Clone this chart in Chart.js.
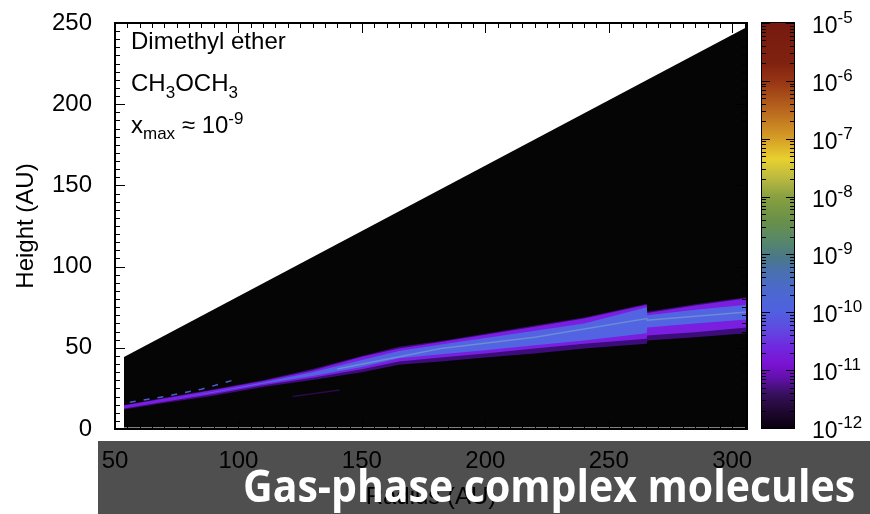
<!DOCTYPE html>
<html>
<head>
<meta charset="utf-8">
<script src="https://cdn.jsdelivr.net/npm/chart.js@4/dist/chart.umd.min.js"></script>
<style>
body { margin: 0; background: #fff; }
#wrap { position: relative; width: 870px; height: 514px; overflow: hidden; font-family: 'Liberation Sans', Arial, sans-serif; }
#main { position: absolute; left: 0; top: 0; }
#bar { position: absolute; left: 740px; top: 0; }
.lbl { position: absolute; left: 131px; font-size: 24px; line-height: 24px; color: #000; white-space: nowrap; }
.sub { position: relative; font-size: 17px; top: 7px; }
.sup { position: relative; font-size: 17px; top: -9px; }
#shade { position: absolute; left: 98px; top: 441px; width: 772px; height: 73px; background: rgba(0, 0, 0, 0.69); }
#banner { position: absolute; left: 243px; top: 463px; font-family: 'Open Sans', sans-serif; font-weight: 700; font-size: 44px; line-height: 44px; color: #fff; white-space: nowrap; transform-origin: 0 0; }
</style>
</head>
<body>
<div id="wrap">
  <canvas id="main" width="760" height="514"></canvas>
  <canvas id="bar" width="130" height="514"></canvas>
  <div class="lbl" style="top:29px">Dimethyl ether</div>
  <div class="lbl" style="top:71px">CH<span class="sub">3</span>OCH<span class="sub">3</span></div>
  <div class="lbl" style="top:113px">x<span class="sub" style="top:6px">max</span> &asymp; 10<span class="sup">-9</span></div>
  <div id="shade"></div>
  <div id="banner">Gas-phase complex molecules</div>
</div>
<script>
// model grid: radius (AU) and heights (AU)
var radius    = [53.6, 70, 90, 110, 130, 150, 165, 182, 200, 220, 240, 265.4, 265.6, 285, 306];
var edgeLow   = [12.0, 16.0, 20.5, 25.8, 30.2, 35.0, 39.5, 41.5, 44.0, 46.5, 49.5, 52.5, 54.5, 56.5, 59.0];
var edgeHigh  = [14.8, 19.2, 24.5, 30.0, 37.0, 45.0, 50.6, 54.2, 58.7, 63.7, 68.7, 77.2, 72.2, 76.8, 81.2];
var outerLow  = [12.6, 16.8, 21.5, 27.0, 31.5, 36.8, 41.5, 44.0, 46.5, 49.5, 52.5, 55.5, 57.5, 59.5, 62.5];
var outerHigh = [14.4, 18.8, 24.0, 29.5, 36.0, 44.5, 49.5, 53.5, 58.0, 63.0, 68.0, 76.5, 71.5, 76.0, 80.5];
var blueLow   = [13.5, 17.8, 22.4, 27.8, 32.6, 38.2, 43.5, 46.0, 48.5, 51.5, 54.5, 59.0, 62.5, 65.0, 67.5];
var blueHigh  = [13.5, 17.8, 23.0, 28.6, 35.0, 42.5, 48.0, 52.0, 56.0, 60.5, 65.0, 75.0, 70.0, 73.5, 76.5];

var coreRadius = [140, 182, 220, 265.4, 265.6, 306];
var coreHeight = [37.0, 49.5, 56.5, 68.0, 67.0, 72.0];

var dashRadius = [56, 70, 85, 100];
var dashHeight = [16.5, 20.0, 24.5, 31.0];
var faintRadius = [122, 141];
var faintHeight = [20.0, 24.0];

// disk surface (upper edge of the model domain)
var diskRadius = [53.6, 306];
var diskHeight = [44.3, 247.6];

var xTicks = [50, 100, 150, 200, 250, 300];
var yTicks = [0, 50, 100, 150, 200, 250];

// colour bar: abundance decades and colour stops
var cbExp = [-12, -11, -10, -9, -8, -7, -6, -5];
var cbStopExp = [-5, -5.7, -6, -6.5, -7, -7.35, -7.7, -8, -8.4, -8.7, -9.05, -9.3, -9.65, -10, -10.3, -10.6, -10.9, -11.15, -11.4, -11.7, -12];
var cbStopColor = ['#761a10', '#802210', '#963414', '#b8661e', '#d69e26', '#e8d030', '#b8b840', '#88a040', '#6a9048', '#5a8a62', '#4a7888', '#4a70b0', '#4c68d0', '#5060e2', '#6048e0', '#7028e0', '#7a12d2', '#6010a8', '#381060', '#200830', '#0a0010'];

Chart.defaults.font.family = "'Liberation Sans', Arial, sans-serif";
Chart.defaults.color = '#000';

function pts(xs, ys) {
  return xs.map(function (x, i) { return { x: x, y: ys[i] }; });
}

function band(data, fill, color, order) {
  return { data: data, fill: fill, backgroundColor: color, borderWidth: 0, pointRadius: 0, order: order };
}

var framePlugin = {
  id: 'frame',
  afterDraw: function (chart) {
    var ctx = chart.ctx, a = chart.chartArea, x = chart.scales.x, y = chart.scales.y;
    var L = Math.round(a.left), R = Math.round(a.right), T = Math.round(a.top), B = Math.round(a.bottom);
    ctx.save();
    ctx.fillStyle = '#000';
    for (var v = 50; v <= 306; v += 5) {
      var px = Math.round(x.getPixelForValue(v));
      var len = v % 50 === 0 ? 10 : 5;
      ctx.fillRect(px, T, 1, len);
      ctx.fillRect(px, B - len, 1, len);
    }
    for (var w = 0; w <= 250; w += 5) {
      var py = Math.round(y.getPixelForValue(w));
      var l2 = w % 50 === 0 ? 10 : 5;
      ctx.fillRect(L, py, l2, 1);
      ctx.fillRect(R - l2, py, l2, 1);
    }
    ctx.fillRect(L - 1, T - 1, R - L + 2, 2);
    ctx.fillRect(L - 1, B - 1, R - L + 2, 2);
    ctx.fillRect(L - 1, T - 1, 2, B - T + 2);
    ctx.fillRect(R - 1, T - 1, 2, B - T + 2);
    ctx.restore();
  }
};

new Chart(document.getElementById('main'), {
  type: 'line',
  data: {
    datasets: [
      band(pts(diskRadius, diskHeight), { value: 1 }, '#050505', 9),
      band(pts(radius, edgeLow), false, 'transparent', 8),
      band(pts(radius, edgeHigh), '-1', '#3c0c78', 8),
      band(pts(radius, outerLow), false, 'transparent', 7),
      band(pts(radius, outerHigh), '-1', '#7a1ee0', 7),
      band(pts(radius, blueLow), false, 'transparent', 6),
      band(pts(radius, blueHigh), '-1', '#5264e2', 6),
      { data: pts(coreRadius, coreHeight), borderColor: '#6c8cd4', borderWidth: 1.5, pointRadius: 0, fill: false, order: 5 },
      { data: pts(dashRadius, dashHeight), borderColor: '#4a60c8', borderWidth: 1.5, borderDash: [6, 8], pointRadius: 0, fill: false, order: 4 },
      { data: pts(faintRadius, faintHeight), borderColor: '#2a0a48', borderWidth: 1.5, pointRadius: 0, fill: false, order: 4 }
    ]
  },
  options: {
    responsive: false,
    animation: false,
    layout: { padding: { top: 23, right: 13, left: 0, bottom: 0 } },
    plugins: { legend: { display: false }, tooltip: { enabled: false } },
    scales: {
      x: {
        type: 'linear', min: 50, max: 306,
        afterBuildTicks: function (s) { s.ticks = xTicks.map(function (v) { return { value: v }; }); },
        afterFit: function (s) { s.height = 85; s.paddingLeft = 0; s.paddingRight = 0; },
        grid: { display: false, drawTicks: false },
        border: { display: false },
        ticks: { font: { size: 24 }, padding: 18, maxRotation: 0 },
        title: { display: true, text: 'Radius (AU)', font: { size: 24 }, padding: { top: 0, bottom: 2 } }
      },
      y: {
        type: 'linear', min: 0, max: 250,
        afterBuildTicks: function (s) { s.ticks = yTicks.map(function (v) { return { value: v }; }); },
        afterFit: function (s) { s.width = 115; s.paddingTop = 0; s.paddingBottom = 0; },
        grid: { display: false, drawTicks: false },
        border: { display: false },
        ticks: { font: { size: 24 }, padding: 23 },
        title: { display: true, text: 'Height (AU)', font: { size: 24 }, padding: { top: 12, bottom: 0 } }
      }
    }
  },
  plugins: [framePlugin]
});

var colorbarPlugin = {
  id: 'colorbar',
  afterDraw: function (chart) {
    var ctx = chart.ctx, a = chart.chartArea, y = chart.scales.y;
    var L = Math.round(a.left), R = Math.round(a.right), T = Math.round(a.top), B = Math.round(a.bottom);
    ctx.save();
    ctx.fillStyle = '#000';
    for (var i = 0; i < cbExp.length; i++) {
      for (var m = 1; m <= 9; m++) {
        var val = m * Math.pow(10, cbExp[i]);
        if (val > 1.0001e-5) break;
        var py = Math.round(y.getPixelForValue(val));
        var len = m === 1 ? 8 : 4;
        ctx.fillRect(L, py, len, 1);
        ctx.fillRect(R - len, py, len, 1);
      }
    }
    ctx.fillRect(L - 1, T - 1, R - L + 2, 1);
    ctx.fillRect(L - 1, B, R - L + 2, 1);
    ctx.fillRect(L - 1, T - 1, 1, B - T + 2);
    ctx.fillRect(R, T - 1, 1, B - T + 2);
    ctx.textBaseline = 'alphabetic';
    ctx.textAlign = 'left';
    cbExp.forEach(function (e) {
      var p = y.getPixelForValue(Math.pow(10, e));
      ctx.font = "23px 'Liberation Sans', Arial, sans-serif";
      var x0 = R + 18;
      ctx.fillText('10', x0, p + 10);
      var w = ctx.measureText('10').width;
      ctx.font = "17px 'Liberation Sans', Arial, sans-serif";
      ctx.fillText(String(e), x0 + w, p);
    });
    ctx.restore();
  }
};

new Chart(document.getElementById('bar'), {
  type: 'bar',
  data: {
    labels: [''],
    datasets: [{
      data: [[Math.pow(10, cbExp[0]), Math.pow(10, cbExp[cbExp.length - 1])]],
      barPercentage: 1,
      categoryPercentage: 1,
      borderWidth: 0,
      backgroundColor: function (c) {
        var area = c.chart.chartArea;
        if (!area) return '#000';
        var g = c.chart.ctx.createLinearGradient(0, area.top, 0, area.bottom);
        var top = cbExp[cbExp.length - 1], span = cbExp[0] - top;
        cbStopExp.forEach(function (e, i) { g.addColorStop((e - top) / span, cbStopColor[i]); });
        return g;
      }
    }]
  },
  options: {
    responsive: false,
    animation: false,
    layout: { padding: { left: 22, right: 76, top: 23, bottom: 86 } },
    plugins: { legend: { display: false }, tooltip: { enabled: false } },
    scales: {
      x: { display: false },
      y: { type: 'logarithmic', display: false, min: 1e-12, max: 1e-5 }
    }
  },
  plugins: [colorbarPlugin]
});

function fitBanner() {
  var el = document.getElementById('banner');
  el.style.transform = 'none';
  var w = el.getBoundingClientRect().width;
  el.style.transform = 'scaleX(' + (612 / w) + ')';
}
fitBanner();
if (document.fonts) document.fonts.ready.then(fitBanner);
</script>
</body>
</html>
